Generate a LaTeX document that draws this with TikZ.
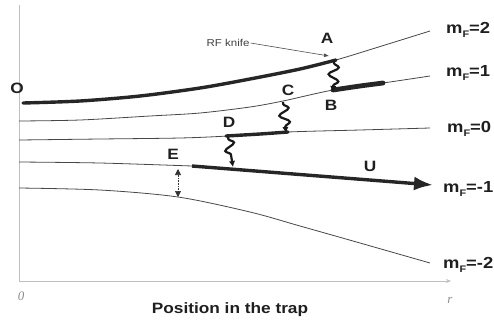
\documentclass[tikz,border=0pt]{standalone}
\usepackage{fontspec}
\setmainfont{Liberation Sans}
\newfontfamily\labfont[FakeStretch=1.15]{Liberation Sans}
\newfontfamily\serfont{Liberation Serif}
\usetikzlibrary{arrows.meta,decorations.pathmorphing}
\newcommand\mFlab[1]{m\raisebox{-0.3em}{\fontsize{9.5}{10}\selectfont F}=#1}
\tikzset{
  axisline/.style={draw=black!25, line width=0.7pt},
  level/.style={draw=black!72, line width=0.8pt},
  thickpath/.style={draw=black!85, line width=3.4pt, line cap=round},
  wig/.style={draw=black!90, line width=2.2pt, decorate,
    decoration={snake, segment length=14pt, amplitude=5pt, pre length=2pt, post length=6pt},
    -{Latex[length=6pt,width=6.5pt]}},
  lbl/.style={font=\labfont\bfseries\fontsize{15}{15}\selectfont, text=black!88, inner sep=0pt},
  mflbl/.style={font=\labfont\bfseries\fontsize{16}{16}\selectfont, text=black!88, inner sep=0pt, anchor=west},
  axlbl/.style={font=\serfont\itshape\fontsize{13}{13}\selectfont, text=black!45, inner sep=0pt}
}
\begin{document}
\begin{tikzpicture}[x=1pt,y=-1pt]
\useasboundingbox (0,0) rectangle (494,327);
% axes
\coordinate (ax0) at (19,281);
\coordinate (axtop) at (19,5);
\coordinate (axr) at (451,281);
\draw[axisline] (axtop) -- (ax0);
\draw[axisline,-{Stealth[length=5pt,width=4pt]}] (ax0) -- (axr);
\node[axlbl] (zero) at (21,296) {0};
\node[axlbl] (rlab) at (450,300) {r};
\node[lbl] (pos) at (230,310) {Position in the trap};
% levels
\draw[level] plot[smooth] coordinates {(23,103) (80,101) (140,96) (200,88) (250,79) (300,69) (336,60) (385,45) (430,31)};
\draw[thickpath] plot[smooth] coordinates {(23,103) (80,101) (140,96) (200,88) (250,79) (300,69) (336,60)};
\draw[level] plot[smooth] coordinates {(19,121) (80,120) (150,116) (200,113) (250,107) (283,101) (333,90) (383,83) (430,76)};
\draw[thickpath, line width=4.8pt] plot[smooth] coordinates {(333,90) (360,86) (383,83)};
\draw[level] plot[smooth] coordinates {(19,140) (100,139) (180,138) (228,136) (288,132) (360,130) (430,128)};
\draw[thickpath] plot[smooth] coordinates {(226,136) (260,134) (288,132)};
\draw[level] plot[smooth] coordinates {(19,162) (100,163) (192,166)};
\coordinate (Us) at (192,166);
\coordinate (Ue) at (433,185);
\draw[thickpath, line cap=butt, -{Latex[length=19pt,width=14pt]}] (Us) -- (Ue);
\draw[level] plot[smooth] coordinates {(19,188) (100,190) (178,197) (250,212) (300,226) (360,243) (430,263)};
% double arrow
\coordinate (da1) at (178,169);
\coordinate (da2) at (178,197);
\draw[draw=black!80, line width=0.6pt, densely dotted, {Triangle[length=6pt,width=6pt]}-{Triangle[length=6pt,width=6pt]}] (da1) -- (da2);
% wiggles
\coordinate (w1s) at (334,61);
\coordinate (w1e) at (333,92);
\coordinate (w2s) at (283,102);
\coordinate (w2e) at (286,133);
\coordinate (w3s) at (228,137);
\coordinate (w3e) at (233,167);
\draw[wig] (w1s) -- (w1e);
\draw[wig] (w2s) -- (w2e);
\draw[wig] (w3s) -- (w3e);
% labels
\node[lbl] (O) at (17,88) {O};
\node[lbl] (A) at (327,38) {A};
\node[lbl] (B) at (331,105) {B};
\node[lbl] (C) at (288,90) {C};
\node[lbl] (D) at (229,122) {D};
\node[lbl] (E) at (173,154) {E};
\node[lbl] (U) at (370,166) {U};
\node[font=\labfont\fontsize{10}{10}\selectfont, text=black!75, inner sep=1pt] (knife) at (228,43) {RF knife};
\coordinate (knifetip) at (329,56);
\draw[draw=black!70, line width=0.6pt, -{Latex[length=5pt,width=4pt]}] (knife.east) -- (knifetip);
\node[mflbl] (m2) at (446,30) {\mFlab{2}};
\node[mflbl] (m1) at (446,73) {\mFlab{1}};
\node[mflbl] (m0) at (447,129) {\mFlab{0}};
\node[mflbl] (mm1) at (443,189) {\mFlab{-1}};
\node[mflbl] (mm2) at (443,265) {\mFlab{-2}};
\end{tikzpicture}
\end{document}
